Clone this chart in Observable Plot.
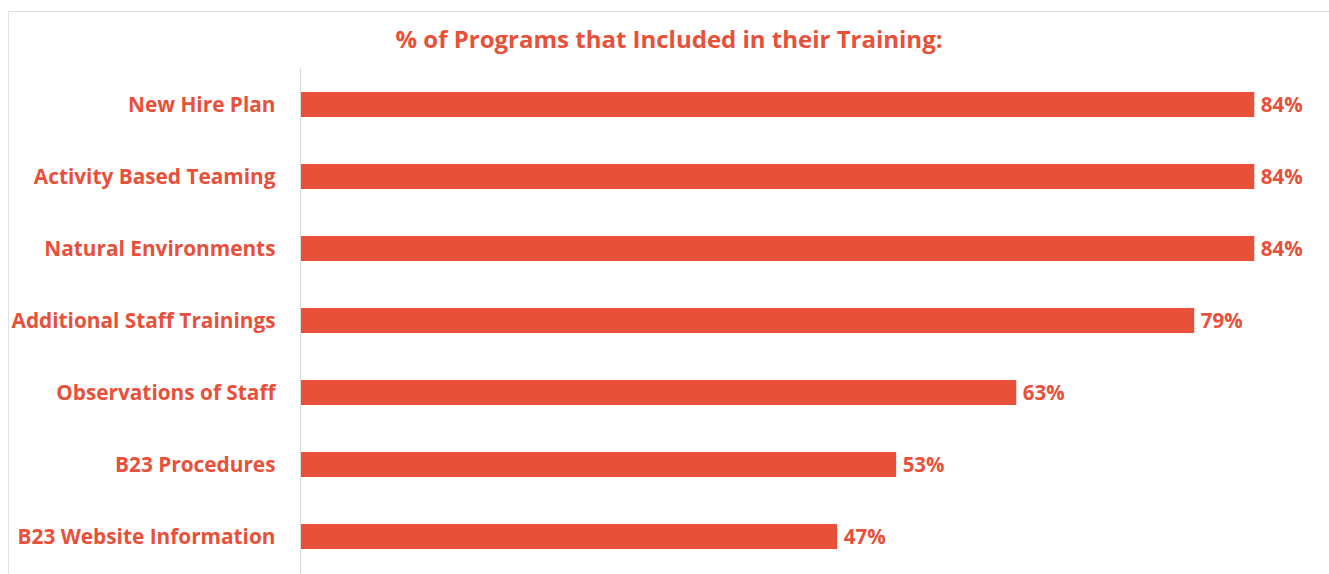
<!DOCTYPE html>
<html>
<head>
<meta charset="utf-8">
<script src="https://cdn.jsdelivr.net/npm/d3@7"></script>
<script src="https://cdn.jsdelivr.net/npm/@observablehq/plot@0.6"></script>
<style>
  html, body { margin: 0; padding: 0; background: #fff; }
  body { width: 1329px; height: 574px; overflow: hidden; position: relative; font-family: "Open Sans", Lato, sans-serif; }
  .frame { position: absolute; left: 8px; top: 11px; width: 1400px; height: 700px; border: 1px solid #e0e0e0; box-sizing: border-box; }
  .title { position: absolute; left: 0; top: 27px; width: 1338px; text-align: center; font-weight: bold; font-size: 24px; line-height: 24px; color: #e8503a; }
  #chart { position: absolute; left: 0; top: 68px; }
</style>
</head>
<body>
<div class="frame"></div>
<div class="title">% of Programs that Included in their Training:</div>
<div id="chart"></div>
<script>
const categories = [
  "New Hire Plan",
  "Activity Based Teaming",
  "Natural Environments",
  "Additional Staff Trainings",
  "Observations of Staff",
  "B23 Procedures",
  "B23 Website Information"
];
const values = [0.842, 0.842, 0.842, 0.789, 0.632, 0.526, 0.474];

const data = categories.map((c, i) => ({category: c, value: values[i]}));
const color = "#e8503a";
const font = "'Open Sans', Lato, sans-serif";

const chart = Plot.plot({
  width: 1329,
  height: 506,
  marginLeft: 300,
  marginRight: 9,
  marginTop: 0,
  marginBottom: 0,
  style: {fontFamily: font, background: "transparent"},
  x: {domain: [0, 0.9], axis: null},
  y: {domain: categories, paddingInner: 0.647, paddingOuter: 0.3235, label: null},
  marks: [
    Plot.barX(data, {x: "value", y: "category", fill: color}),
    Plot.ruleX([0], {stroke: "#d9d9d9", strokeWidth: 1}),
    Plot.text(data, {x: "value", y: "category", text: d => d3.format(".0%")(d.value), textAnchor: "start", dx: 6, fill: color, fontSize: 20.5, fontWeight: "bold"}),
    Plot.axisY({tickSize: 0, tickPadding: 25, fontSize: 20.8, fontWeight: "bold", color: color, label: null})
  ]
});
chart.querySelectorAll("[aria-label='y-axis tick label'] text, [aria-label='y-axis tick label']").forEach(el => {
  el.setAttribute("fill", color);
});
document.getElementById("chart").appendChild(chart);
</script>
</body>
</html>
